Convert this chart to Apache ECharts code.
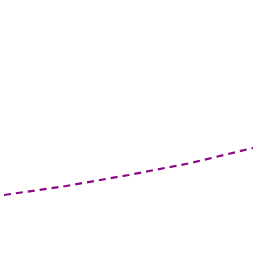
<!DOCTYPE html>
<html>
<head>
<meta charset="utf-8">
<script src="https://cdn.jsdelivr.net/npm/echarts@6/dist/echarts.min.js"></script>
<style>
  html, body { margin: 0; padding: 0; background: #fff; }
  #chart { width: 256px; height: 256px; }
</style>
</head>
<body>
<div id="chart"></div>
<script>
// values
const categories = ['1', '2', '3', '4', '5']
const seriesValues = [61, 70, 81, 93, 108]

const chart = echarts.init(document.getElementById('chart'), null, { renderer: 'canvas' })

chart.setOption({
  animation: false,
  grid: { left: 4, right: 3, top: 0, bottom: 0 },
  xAxis: {
    type: 'category',
    boundaryGap: false,
    data: categories,
    show: false
  },
  yAxis: {
    type: 'value',
    min: 0,
    max: 256,
    show: false
  },
  series: [
    {
      type: 'line',
      data: seriesValues,
      symbol: 'none',
      lineStyle: {
        color: '#8b0a84',
        width: 2.2,
        type: [7, 5]
      }
    }
  ]
})
</script>
</body>
</html>
